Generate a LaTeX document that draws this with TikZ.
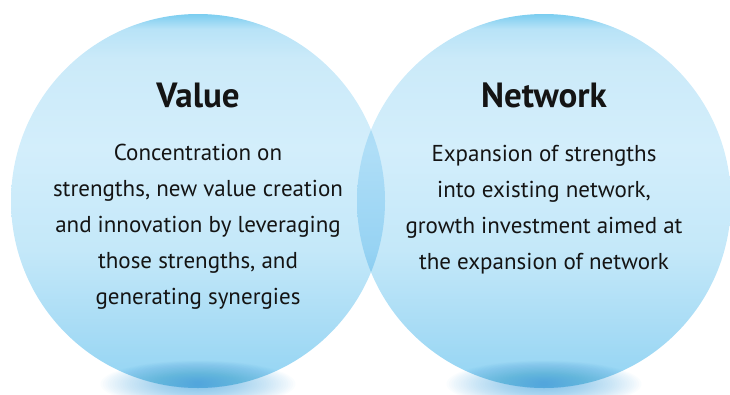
\documentclass[tikz,border=0pt]{standalone}
\usepackage{fontspec}
\setmainfont{PT Sans}
\usetikzlibrary{calc,positioning}

\definecolor{inkblack}{HTML}{141414}
\definecolor{shadowblue}{HTML}{3A9EDC}

\pgfdeclareverticalshading{bubble}{100bp}{%
  color(0bp)=(rgb,255:red,146;green,212;blue,243);
  color(25bp)=(rgb,255:red,146;green,212;blue,243);
  color(33bp)=(rgb,255:red,168;green,220;blue,245);
  color(43.5bp)=(rgb,255:red,196;green,232;blue,249);
  color(57bp)=(rgb,255:red,211;green,238;blue,251);
  color(69bp)=(rgb,255:red,203;green,234;blue,249);
  color(73bp)=(rgb,255:red,184;green,227;blue,247);
  color(75bp)=(rgb,255:red,123;green,205;blue,240);
  color(100bp)=(rgb,255:red,123;green,205;blue,240)}
\pgfdeclareverticalshading{bubbleoverlap}{100bp}{%
  color(0bp)=(rgb,255:red,84;green,176;blue,232);
  color(25bp)=(rgb,255:red,84;green,176;blue,232);
  color(33bp)=(rgb,255:red,111;green,190;blue,235);
  color(43.5bp)=(rgb,255:red,151;green,211;blue,243);
  color(57bp)=(rgb,255:red,175;green,222;blue,247);
  color(69bp)=(rgb,255:red,162;green,215;blue,243);
  color(73bp)=(rgb,255:red,133;green,202;blue,239);
  color(75bp)=(rgb,255:red,59;green,165;blue,226);
  color(100bp)=(rgb,255:red,59;green,165;blue,226)}

\tikzset{
  heading/.style={font=\bfseries\fontsize{35}{40}\selectfont, text=inkblack},
  blurb/.style={font=\fontsize{23}{36}\selectfont, align=center, text=inkblack}
}

\begin{document}
\begin{tikzpicture}[x=1pt,y=-1pt]
    \useasboundingbox (0,0) rectangle (730,394);
    \coordinate (value)   at (198,201);
    \coordinate (network) at (544,201);

    \foreach \c in {value,network} {\shade[shading=bubble] (\c) circle (187pt);};
    \begin{scope}
      \clip (value) circle (187pt);
      \shade[shading=bubbleoverlap] (network) circle (187pt);
    \end{scope}

    \foreach \c in {value,network} {
      \foreach \i [evaluate=\i as \rx using 100-2.4*\i, evaluate=\i as \ry using 24-0.55*\i] in {1,...,40}
        {\fill[shadowblue,opacity=0.025] ($(\c)+(0,183)$) ellipse (\rx pt and \ry pt);};
    };

    \node[heading] (valuetitle)   at ($(value)+(0,-106)$)   {Value};
    \node[heading] (networktitle) at ($(network)+(0,-106)$) {Network};

    \node[blurb] (valuetext) at ($(value)+(0,26)$) {Concentration on\\
      strengths, new value creation\\
      and innovation by leveraging\\
      those strengths, and\\
      generating synergies};
    \node[blurb] (networktext) at ($(network)+(0,9)$) {Expansion of strengths\\
      into existing network,\\
      growth investment aimed at\\
      the expansion of network};
\end{tikzpicture}
\end{document}
